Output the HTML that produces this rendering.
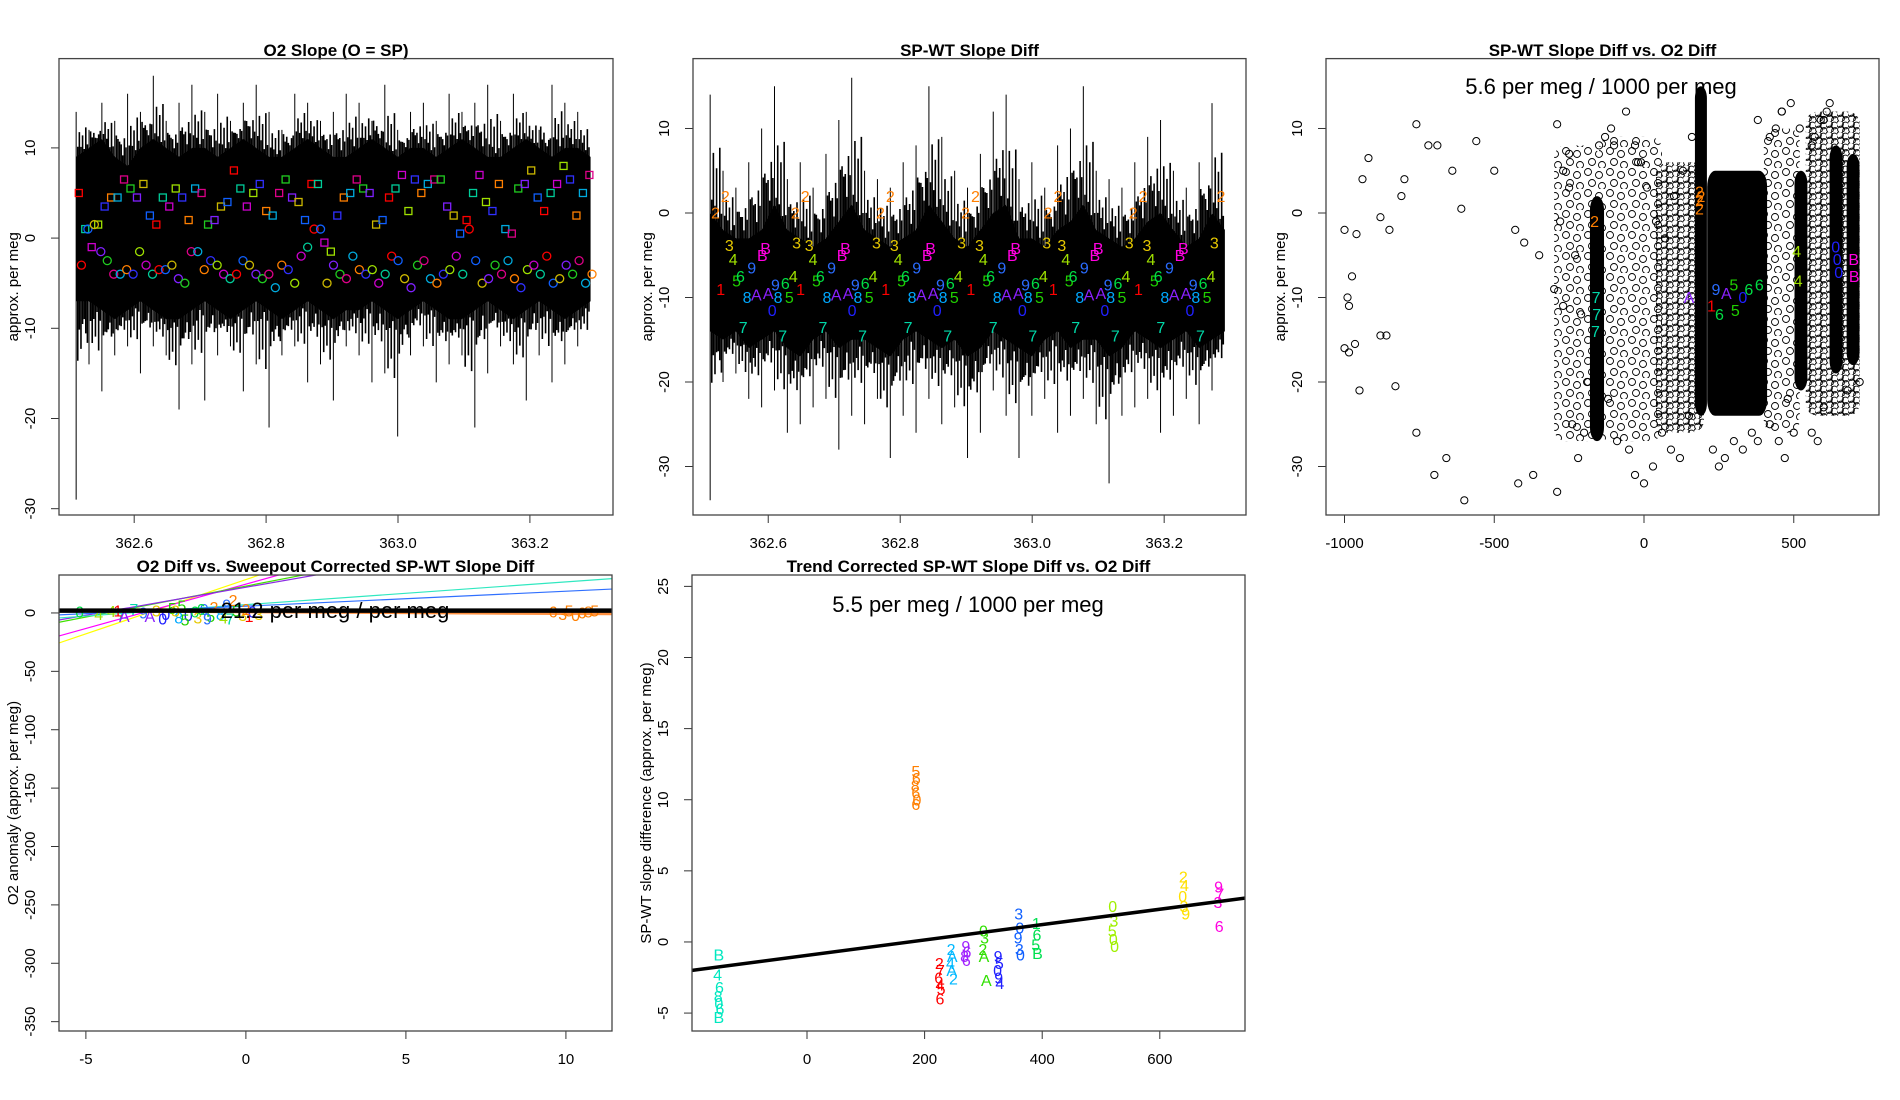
<!DOCTYPE html>
<html><head><meta charset="utf-8"><title>Slope diagnostics</title>
<style>
html,body{margin:0;padding:0;background:#fff;}
svg{display:block;font-family:"Liberation Sans",sans-serif;}
</style></head>
<body>
<svg id="root" width="1900" height="1100" viewBox="0 0 1900 1100" xmlns="http://www.w3.org/2000/svg">
<defs>
<pattern id="circDense" width="11" height="11" patternUnits="userSpaceOnUse">
<circle cx="3" cy="3" r="3.4" fill="none" stroke="#000" stroke-width="0.9"/>
<circle cx="8.5" cy="4.5" r="3.4" fill="none" stroke="#000" stroke-width="0.9"/>
<circle cx="4" cy="8.5" r="3.4" fill="none" stroke="#000" stroke-width="0.9"/>
<circle cx="9" cy="10" r="3.4" fill="none" stroke="#000" stroke-width="0.9"/>
</pattern>
<pattern id="circSparse" width="22" height="21" patternUnits="userSpaceOnUse">
<circle cx="4" cy="4" r="3.5" fill="none" stroke="#000" stroke-width="0.9"/>
<circle cx="15" cy="7" r="3.5" fill="none" stroke="#000" stroke-width="0.9"/>
<circle cx="8" cy="15" r="3.5" fill="none" stroke="#000" stroke-width="0.9"/>
<circle cx="18" cy="18" r="3.5" fill="none" stroke="#000" stroke-width="0.9"/>
</pattern>
</defs>
</svg>
<script>
// ---------- DATA ----------
const p1T0 = 362.512, p1Step = 0.0195;
const p1SpikeHi = [14,12,15,13,16,14,18,13,15,17,14,16,13,15,17,14,12,16,15,13,14,16,15,13,17,12,14,15,13,16,14,15,17,13,16,14,12,17,15,14,13];
const p1SpikeLo = [-29,-14,-17,-13,-12,-15,-12,-13,-19,-14,-18,-13,-12,-17,-14,-21,-13,-12,-16,-14,-18,-12,-13,-16,-15,-22,-13,-12,-16,-14,-13,-21,-15,-12,-14,-18,-13,-16,-14,-12,-13];
const p1CoreHi = [9,10,11,9,8,10,11,10,9,10,10,9,10,11,10,9,9,10,11,10,9,9,10,11,10,9,10,10,9,10,11,10,9,9,10,11,10,9,10,10,9];
const p1CoreLo = [-7,-7,-8,-9,-8,-7,-8,-9,-9,-8,-7,-8,-9,-8,-7,-8,-9,-8,-7,-8,-9,-8,-8,-7,-8,-9,-8,-7,-8,-9,-9,-8,-7,-8,-9,-8,-7,-8,-9,-8,-7];
const p1MarkT0 = 362.516, p1MarkStep = 0.0098;
const p1Squares = [5,1,-1,1.5,3.5,4.5,4.5,6.5,5.5,4.5,6,2.5,1.5,4.5,3.5,5.5,4.5,2,5.5,5,1.5,2,3.5,4,7.5,5.5,3.5,5,6,3,2.5,5,6.5,4.5,4,2,6,6,-0.5,-1.5,2.5,4.5,5,6.5,5.5,5,1.5,2,4.5,5.5,7,3,6.5,5,6,6.5,6.5,3.5,2.5,0.5,2,5,7,4,3,6,1,0.5,5.5,6,7.5,4.5,3,5,6,8,6.5,2.5,5,7];
const p1Circles = [-3,1,1.5,-1.5,-2.5,-4,-4,-3.5,-4,-1.5,-3,-4,-3.5,-3.5,-3,-4.5,-5,-1.5,-1.5,-3.5,-2.5,-3,-4,-4.5,-4,-2.5,-3,-4,-4.5,-4,-5.5,-3,-3.5,-5,-2,-1,1,1,-5,-3,-4,-4.5,-2,-3.5,-4,-3.5,-5,-4,-2,-2.5,-4.5,-5.5,-3,-2.5,-4.5,-5,-4,-3.5,-2,-4,1,-2.5,-5,-4.5,-3,-4,-2.5,-4.5,-5.5,-3.5,-3,-4,-2,-5,-4.5,-3,-4,-2.5,-5,-4];
const p2SpikeHi = [14,5,3,6,10,15,4,6,3,7,11,16,5,4,3,6,8,15,9,5,3,7,12,14,4,6,3,8,10,15,5,4,3,6,9,11,5,3,6,13,4];
const p2SpikeLo = [-34,-20,-19,-22,-23,-21,-26,-25,-23,-22,-28,-24,-25,-22,-29,-24,-26,-22,-25,-23,-29,-26,-21,-24,-29,-24,-22,-26,-24,-22,-25,-32,-24,-23,-22,-26,-24,-22,-25,-21,-20];
const p2CoreHi = [0,-2,-3,-3,-2,1,-2,-3,-4,-3,-1,1,-2,-3,-4,-3,-2,1,-1,-3,-4,-2,0,1,-3,-3,-4,-2,-1,1,-2,-3,-4,-3,-1,0,-2,-4,-3,0,-2];
const p2CoreLo = [-14,-15,-14,-16,-15,-14,-16,-17,-15,-14,-16,-15,-15,-16,-17,-15,-14,-15,-16,-15,-17,-16,-14,-15,-16,-17,-15,-14,-16,-15,-15,-17,-16,-14,-15,-16,-15,-14,-16,-15,-14];
const p2CycleStarts = [362.52,362.641,362.77,362.899,363.024,363.153];
const p2LabOff = [0,0.015,0.008,0.021,0.027,0.032,0.038,0.042,0.048,0.055,0.062,0.071,0.076,0.080,0.086,0.091,0.095,0.102,0.106,0.112,0.118,0.123];
const p2LabVal = [0,2,-9,-3.8,-5.5,-8,-7.5,-13.5,-10,-6.5,-9.7,-5,-4.2,-9.5,-11.5,-8.5,-10,-14.5,-8.3,-10,-7.5,-3.5];
const p2LabChr = ["2","2","1","3","4","5","6","7","8","9","A","B","B","A","0","9","8","7","6","5","4","3"];
const p3SparseX = [-1000,-990,-985,-975,-960,-1000,-985,-965,-950,-940,-920,-880,-850,-860,-880,-830,-810,-800,-760,-720,-690,-760,-660,-640,-610,-560,-500,-430,-400,-350,-370,-420,-290,-600,-700,-290,-250,-220,-270,-250,-240,-200,-130,-100,-60,-20,10,40,70,100,130,160,-230,-210,-190,-120,-90,-50,-30,0,30,60,90,120,150,420,450,470,480,560,580,600,440,460,490,570,590,610,620,500,-30,-10,230,250,270,300,330,360,380,-280,-300,-270,-150,-110,380,420,460,520,560,600,680,720];
const p3SparseY = [-2,-10,-11,-7.5,-2.5,-16,-16.5,-15.5,-21,4,6.5,-0.5,-2,-14.5,-14.5,-20.5,2,4,10.5,8,8,-26,-29,5,0.5,8.5,5,-2,-3.5,-5,-31,-32,-33,-34,-31,10.5,7,-29,5,3,-25,-26,9,8,12,6,3,-1,-3,2,5,9,-5,-12,-20,-22,-27,-28,-31,-32,-30,-26,-28,-29,-24,-25,-27,-29,-22,-26,-27,-23,10,12,13,9,11,12,13,-26,8,6,-28,-30,-29,-27,-28,-26,-27,-1,-9,-11,8,10,11,9,12,10,8,11,-21,-20];
const p3DenseX = [-157,190,311,524,641,698];
const p3DenseW = [47,40,200,43,43,43];
const p3DenseLo = [-27,-24,-24,-21,-19,-18];
const p3DenseHi = [2,15,5,5,8,7];
const p3CloudX = [-300,-150,40,400,540];
const p3CloudX2 = [-150,60,200,520,720];
const p3CloudLo = [-27,-27,-26,-26,-24];
const p3CloudHi = [8,9,6,10,12];
const p3CloudDense = [0,0,1,0,1];
const p3LabX = [-160,-158,-162,185,185,185,510,515,640,645,650,700,702,150,225,240,252,275,300,305,330,350,385,-165,190];
const p3LabY = [-10,-12,-14,0.5,1.5,2.5,-4.5,-8,-4,-5.5,-7,-5.5,-7.5,-10,-11,-9,-12,-9.5,-8.5,-11.5,-10,-9,-8.5,-1,2];
const p3LabC = ["7","7","7","2","2","2","4","4","0","0","0","B","B","A","1","9","6","A","5","5","0","6","6","2","2"];
const p4LabX = [-5.2,-4.6,-4.2,-3.9,-3.5,-3.2,-3.0,-2.8,-2.5,-2.3,-2.1,-2.0,-1.8,-1.6,-1.5,-1.3,-1.1,-1.0,-0.8,-0.6,-0.5,-0.3,-0.1,0.1,0.2,0.4,-3.8,-2.6,-1.9,-1.2,-0.7,0.0,-4.0,-2.2,-1.4,-0.4,9.6,9.9,10.1,10.3,10.5,10.7,10.9];
const p4LabY = [1,-1,1.5,-2,3,0,-3,2,-1,4,-4,6,-2,1,-4,3,-3,5,-1,7,-5,2,-2,-3,1,-1,-3,-5,-6,-5,-4,3,2,2,3,11,1,-1,2,-2,0,1,2];
const p4LabC = ["6","4","4","7","7","9","A","3","0","5","8","5","0","6","3","9","5","2","8","9","7","5","3","1","0","3","A","0","5","9","4","2","1","3","6","2","6","3","5","0","6","8","5"];
const p4Slopes = [9.3,7.6,5.3,4.8,1.95,1.28,-0.15];
const p4Inters = [28.6,24.7,23,22,7.1,5.8,1];
const p4Fit = [0, 2];
const p5X = [185,186,184,185,187,185,-150,-152,-149,-151,-150,-148,-150,225,227,224,226,228,226,245,247,244,246,249,270,272,268,271,300,302,299,301,305,325,327,324,326,328,360,362,359,361,363,390,391,389,392,520,522,519,521,523,640,642,639,641,644,700,702,699,701];
const p5Y = [12,11.5,11,10.5,10,9.7,-0.9,-2.3,-3.2,-3.8,-4.3,-4.7,-5.3,-1.5,-2,-2.5,-3,-3.3,-4,-0.5,-1,-1.5,-2,-2.6,-0.3,-0.7,-1,-1.3,0.8,0.3,-0.5,-1,-2.7,-1,-1.5,-2,-2.5,-2.9,2,1,0.3,-0.5,-0.9,1.3,0.5,-0.2,-0.8,2.5,1.5,0.8,0.2,-0.3,4.6,4,3.2,2.5,2,3.9,3.4,2.8,1.1];
const p5C = ["5","6","8","6","0","6","B","4","6","8","0","6","B","2","7","6","4","5","6","2","A","4","A","2","9","6","8","6","0","3","2","A","A","9","5","0","9","4","3","0","9","3","0","1","6","5","B","0","3","5","0","0","2","4","0","3","9","9","7","3","6"];
const p5Fit = [-0.94, 0.0054];

// ---------- HELPERS ----------
const NS = "http://www.w3.org/2000/svg";
const root = document.getElementById("root");
const charColor = {"1":"#FF0000","2":"#FF7F00","3":"#E6C800","4":"#9FE000","5":"#20D000","6":"#00DD44","7":"#00D8A8","8":"#00A8FF","9":"#2A6CFF","0":"#2020FF","A":"#8A20FF","B":"#FF00E0"};
const cyc = ["#FF0000","#FF7F00","#CCB800","#9FE000","#20CC20","#00CC99","#00AADD","#1060FF","#3030FF","#8020FF","#CC00CC","#DD0088"];
const fringeW = [0.25,0.5,0.75,0.4,0.6,0.15,0.85,0.35];
function el(tag, attrs, parent){const e=document.createElementNS(NS,tag);for(const k in attrs)e.setAttribute(k,attrs[k]);(parent||root).appendChild(e);return e;}
function lin(d0,d1,r0,r1){return v=>r0+(v-d0)*(r1-r0)/(d1-d0);}

function panel(name, box, xd, yd, xticks, yticks, title, ytitle, titleY){
  const g = el("g",{});
  
  
  const sx = lin(xd[0],xd[1],box[0],box[2]);
  const sy = lin(yd[0],yd[1],box[3],box[1]);
  const clipId = name+"-clip";
  const cp = el("clipPath",{id:clipId},g); el("rect",{x:box[0],y:box[1],width:box[2]-box[0],height:box[3]-box[1]},cp);
  const plot = el("g",{"clip-path":"url(#"+clipId+")"},g);
  
  
  const t = el("text",{x:(box[0]+box[2])/2,y:titleY,"text-anchor":"middle","font-size":"17","font-weight":"bold"},g);
  t.textContent = title;
  
  
  const xa = el("g",{},g);
  
  
  xticks.forEach(v=>{const x=sx(v);el("line",{x1:x,x2:x,y1:box[3],y2:box[3]+8,stroke:"#333","stroke-width":1},xa);
    const tx=el("text",{x:x,y:box[3]+33,"text-anchor":"middle","font-size":"15"},xa);tx.textContent=v.label||String(v);});
  const ya = el("g",{},g);
  
  
  yticks.forEach(v=>{const y=sy(v);el("line",{x1:box[0]-8,x2:box[0],y1:y,y2:y,stroke:"#333","stroke-width":1},ya);
    const tx=el("text",{x:box[0]-24,y:y,"text-anchor":"middle","font-size":"15",transform:"rotate(-90 "+(box[0]-24)+" "+y+")"},ya);tx.textContent=String(v);});
  const yt = el("text",{x:box[0]-41,y:(box[1]+box[3])/2,"text-anchor":"middle","font-size":"15",transform:"rotate(-90 "+(box[0]-41)+" "+((box[1]+box[3])/2)+")"},g);
  yt.textContent = ytitle;
  
  
  return {g,plot,sx,sy,box};
}
function frame(p){const r=el("rect",{x:p.box[0],y:p.box[1],width:p.box[2]-p.box[0],height:p.box[3]-p.box[1],fill:"none",stroke:"#444","stroke-width":1.3},p.g);
  }
function label(p,x,y,ch,col,size,name){const t=el("text",{x:p.sx(x),y:p.sy(y)+size*0.36,"text-anchor":"middle","font-size":size,fill:col},p.plot);t.textContent=ch;
  return t;}
function mass(p, hiS, loS, hiC, loC, nm){
  for(let i=0;i<hiS.length-1;i++){
    for(let k=0;k<8;k++){
      const f=k/8, w=fringeW[k];
      const x=p.sx(p1T0+(i+f)*p1Step);
      const cH=hiC[i]*(1-f)+hiC[i+1]*f, cL=loC[i]*(1-f)+loC[i+1]*f;
      const sH=(k%2? hiS[i+1]:hiS[i]), sL=(k%2? loS[i]:loS[i+1]);
      const yTop = k===0 ? sH : cH+(sH-cH)*w*0.7;
      const yBot = k===0 ? loS[i] : cL+(sL-cL)*w*0.6;
      const l=el("line",{x1:x,x2:x,y1:p.sy(yBot),y2:p.sy(yTop),stroke:"#000","stroke-width":k===0?1:1.6},p.plot);
      
      
    }
  }
  let up="",lo="";
  hiC.forEach((v,i)=>{up+=(i?"L":"M")+p.sx(p1T0+i*p1Step)+","+p.sy(v);});
  for(let i=loC.length-1;i>=0;i--){lo+="L"+p.sx(p1T0+i*p1Step)+","+p.sy(loC[i]);}
  const core=el("path",{d:up+lo+"Z",fill:"#000"},p.plot);
  
  
}

// ---------- PANEL 1 ----------
(function(){
  const p = panel("o2-slope-panel",[59,58.6,613,515],[362.486,363.326],[-30.7,19.9],[362.6,362.8,363.0,363.2].map(v=>{const o=new Number(v);o.label=v.toFixed(1);return o;}),[-30,-20,-10,0,10],"O2 Slope (O = SP)","approx. per meg",56);
  mass(p,p1SpikeHi,p1SpikeLo,p1CoreHi,p1CoreLo,'o2-slope-series');
  p1Squares.forEach((v,i)=>{const x=p.sx(p1MarkT0+i*p1MarkStep),y=p.sy(v);
    const r=el("rect",{x:x-3.5,y:y-3.5,width:7,height:7,fill:"none",stroke:cyc[(i*5)%12],"stroke-width":1.3},p.plot);
    
    });
  p1Circles.forEach((v,i)=>{const x=p.sx(p1MarkT0+i*p1MarkStep+0.004),y=p.sy(v);
    const c=el("circle",{cx:x,cy:y,r:4,fill:"none",stroke:cyc[(i*7)%12],"stroke-width":1.3},p.plot);
    
    });
  frame(p);
})();

// ---------- PANEL 2 ----------
(function(){
  const p = panel("sp-wt-slope-diff-panel",[693,58.6,1246,515],[362.486,363.324],[-35.74,18.27],[362.6,362.8,363.0,363.2].map(v=>{const o=new Number(v);o.label=v.toFixed(1);return o;}),[-30,-20,-10,0,10],"SP-WT Slope Diff","approx. per meg",56);
  mass(p,p2SpikeHi,p2SpikeLo,p2CoreHi,p2CoreLo,'slope-diff-series');
  p2CycleStarts.forEach(c=>{p2LabOff.forEach((o,j)=>{label(p,c+o,p2LabVal[j],p2LabChr[j],charColor[p2LabChr[j]],16,'cycle-label');});});
  label(p,363.286,2,"2",charColor["2"],16,'cycle-label');
  frame(p);
})();

// ---------- PANEL 3 ----------
(function(){
  const p = panel("slope-diff-vs-o2-panel",[1326,58.6,1879,515],[-1061.8,784.6],[-35.74,18.27],[-1000,-500,0,500],[-30,-20,-10,0,10],"SP-WT Slope Diff vs. O2 Diff","approx. per meg",56);
  p3CloudX.forEach((x,i)=>{const r=el("rect",{x:p.sx(x),y:p.sy(p3CloudHi[i]),width:p.sx(p3CloudX2[i])-p.sx(x),height:p.sy(p3CloudLo[i])-p.sy(p3CloudHi[i]),fill:p3CloudDense[i]?"url(#circDense)":"url(#circSparse)",rx:12},p.plot);
    
    });
  p3SparseX.forEach((x,i)=>{const c=el("circle",{cx:p.sx(x),cy:p.sy(p3SparseY[i]),r:3.6,fill:"none",stroke:"#000","stroke-width":1},p.plot);
    
    });
  p3DenseX.forEach((x,i)=>{const w=p.sx(x+p3DenseW[i]/2)-p.sx(x-p3DenseW[i]/2);
    const yt=p.sy(p3DenseHi[i]), yb=p.sy(p3DenseLo[i]);
    const r=el("rect",{x:p.sx(x)-w/2,y:yt,width:w,height:yb-yt,rx:Math.min(w/2,8),ry:Math.min(w,16),fill:"#000"},p.plot);
    
    });
  p3LabX.forEach((x,i)=>label(p,x,p3LabY[i],p3LabC[i],charColor[p3LabC[i]],16,'group-label'));
  const t=el("text",{x:1601,y:94,"text-anchor":"middle","font-size":"22"},p.g);t.textContent="5.6 per meg / 1000 per meg";
  
  
  frame(p);
})();

// ---------- PANEL 4 ----------
(function(){
  const p = panel("o2-diff-vs-corrected-panel",[59,575,612,1031],[-5.84,11.44],[-358,32.5],[-5,0,5,10],[-350,-300,-250,-200,-150,-100,-50,0],"O2 Diff vs. Sweepout Corrected SP-WT Slope Diff","O2 anomaly (approx. per meg)",572);
  const cols=["#FFFF00","#FF00FF","#40E000","#8A2BE2","#30E8C0","#3070FF","#FF9040"];
  p4Slopes.forEach((s,i)=>{const x0=-5.84,x1=11.44;
    const l=el("line",{x1:p.sx(x0),y1:p.sy(p4Inters[i]+s*x0),x2:p.sx(x1),y2:p.sy(p4Inters[i]+s*x1),stroke:cols[i],"stroke-width":i==6?3:1.2},p.plot);
    
    });
  p4LabX.forEach((x,i)=>label(p,x,p4LabY[i],p4LabC[i],x>5?"#FF7F00":charColor[p4LabC[i]],16,'group-label'));
  const fl=el("line",{x1:p.sx(-5.84),y1:p.sy(p4Fit[1]+p4Fit[0]*-5.84),x2:p.sx(11.44),y2:p.sy(p4Fit[1]+p4Fit[0]*11.44),stroke:"#000","stroke-width":4.5},p.plot);
  
  
  const t=el("text",{x:335,y:618,"text-anchor":"middle","font-size":"22"},p.g);t.textContent="21.2 per meg / per meg";
  
  
  frame(p);
})();

// ---------- PANEL 5 ----------
(function(){
  const p = panel("trend-corrected-panel",[692,575,1245,1031],[-195.6,744.9],[-6.26,25.8],[0,200,400,600],[-5,0,5,10,15,20,25],"Trend Corrected SP-WT Slope Diff vs. O2 Diff","SP-WT slope difference (approx. per meg)",572);
  p5X.forEach((x,i)=>{const col = x<0?"#00E8C0":x<200?"#FF7F00":x<235?"#FF0000":x<255?"#00B8FF":x<285?"#A020FF":x<310?"#30E000":x<340?"#2020FF":x<375?"#1060FF":x<400?"#00E050":x<600?"#A0F000":x<680?"#FFE000":"#FF00E0";
    label(p,x,p5Y[i],p5C[i],col,16,'group-label');});
  const fl=el("line",{x1:p.sx(-195.6),y1:p.sy(p5Fit[0]+p5Fit[1]*-195.6),x2:p.sx(744.9),y2:p.sy(p5Fit[0]+p5Fit[1]*744.9),stroke:"#000","stroke-width":3.5},p.plot);
  
  
  const t=el("text",{x:968,y:612,"text-anchor":"middle","font-size":"22"},p.g);t.textContent="5.5 per meg / 1000 per meg";
  
  
  frame(p);
})();
</script>
</body></html>
